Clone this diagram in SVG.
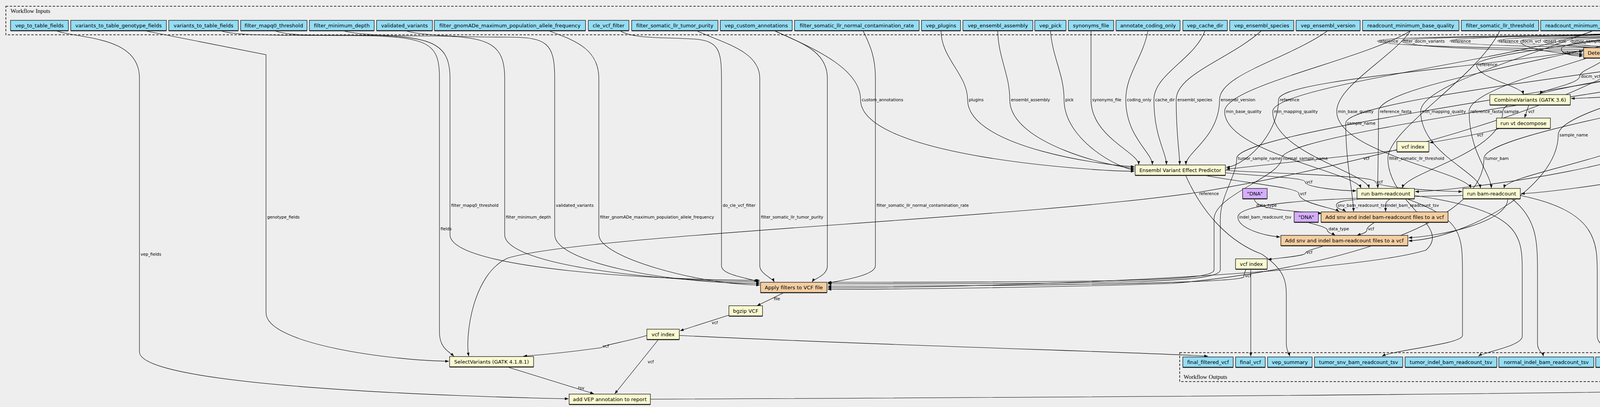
<svg xmlns="http://www.w3.org/2000/svg" width="7037" height="1041" viewBox="0 0 7037 1041">
<style>
rect.b{stroke:#000;stroke-width:1.2}
.in rect.b,.out rect.b{fill:#94ddf4}
.wf rect.b{fill:#f3cea1}
.tl rect.b{fill:#fafad2}
.cs rect.b{fill:#d5aefc}
rect.s{fill:#3a3a3a}
text.n{font-family:"DejaVu Sans",sans-serif;font-size:13px;text-anchor:middle;fill:#000}
text.l{font-family:"DejaVu Sans",sans-serif;font-size:10.5px;fill:#000}
#edges path{fill:none;stroke:#000;stroke-width:1.1;marker-end:url(#a)}
.cl{fill:none;stroke:#000;stroke-width:1.5;stroke-dasharray:6 4}
.ct{font-family:"Liberation Serif",serif;font-size:15px;fill:#000}
</style>
<defs>
<marker id="a" markerWidth="9" markerHeight="7" refX="9" refY="3.5" orient="auto" markerUnits="userSpaceOnUse"><path d="M0,0 L9,3.5 L0,7 z" fill="#000"/></marker>
</defs>
<rect x="0" y="0" width="7037" height="1041" fill="#eeeeee"/>
<g id="cluster_inputs"><rect class="cl" x="15" y="16" width="6989" height="73"/><text class="ct" x="27" y="33">Workflow Inputs</text></g>
<g id="cluster_outputs"><rect class="cl" x="3020" y="902" width="2828" height="74"/><text class="ct" x="3030" y="969">Workflow Outputs</text></g>

<g id="edges">
<path d="M4265,78 C4265,92 3526,90 3526,105 C3526,125 4440,131 4498,131"/>
<path d="M4390,78 C4390,92 3589,90 3589,105 C3589,125 4000,131 4052,131"/>
<path d="M4265,78 C4265,92 3712,90 3712,105 C3712,125 4870,131 4931,131"/>
<path d="M4265,78 C4265,92 3834,90 3834,105 C3834,125 5300,131 5361,131"/>
<path d="M4515,78 C4515,92 3892,90 3892,105 C3892,125 4000,139 4052,139"/>
<path d="M4632,78 C4632,92 3951,90 3951,105 C3951,125 4440,135 4498,135"/>
<path d="M4788,78 C4788,92 4020,90 4020,105 C4020,125 4440,139 4498,139"/>
<path d="M4265,78 C4265,92 4142,90 4142,105 C4142,125 6060,128 6118,128"/>
<path d="M5094,78 C5094,92 4226,90 4226,105 C4226,112 4174,105 4174,121"/>
<path d="M4265,78 C4265,92 4320,90 4320,105 C4320,122 4270,131 4219,131"/>
<path d="M4957,78 C4957,92 4381,90 4381,105 C4381,125 4870,139 4931,139"/>
<path d="M5200,78 C5200,92 4522,90 4522,105 C4522,125 4270,139 4219,139"/>
<path d="M5094,78 C5094,92 4600,90 4600,105 C4600,112 4590,105 4590,121"/>
<path d="M4788,78 C4788,92 4665,90 4665,105 C4665,122 4730,131 4680,131"/>
<path d="M4788,78 C4788,92 4787,90 4787,105 C4787,125 4880,135 4931,135"/>
<path d="M4788,78 C4788,92 4929,90 4929,105 C4929,125 5300,135 5361,135"/>
<path d="M5094,78 C5094,92 5056,90 5056,105 C5056,112 5040,105 5040,121"/>
<path d="M5200,78 C5200,92 5128,90 5128,105 C5128,122 5170,131 5119,131"/>
<path d="M5475,78 C5475,92 5218,90 5218,105 C5218,122 5170,139 5119,139"/>
<path d="M4957,78 C4957,92 5293,90 5293,105 C5293,122 5320,139 5361,139"/>
<path d="M5094,78 C5094,92 5421,90 5421,105 C5421,112 5425,105 5425,121"/>
<path d="M5200,78 C5200,92 5492,90 5492,105 C5492,122 5545,131 5494,131"/>
<path d="M5475,78 C5475,92 5566,90 5566,105 C5566,122 5545,139 5494,139"/>
<path d="M5200,78 C5200,92 5646,90 5646,105 C5646,125 4740,139 4680,139"/>
<path d="M4957,78 C4957,92 5732,90 5732,105 C5732,125 6060,131 6118,131"/>
<path d="M5094,78 C5094,92 5866,90 5866,105 C5866,125 6060,135 6118,135"/>
<path d="M5475,78 C5475,92 5931,90 5931,105 C5931,125 6060,139 6118,139"/>
<path d="M5754,78 C5754,92 5997,90 5997,105 C5997,125 5180,135 5119,135"/>
<path d="M5754,78 C5754,92 6094,90 6094,105 C6094,125 4740,135 4680,135"/>
<path d="M5200,78 C5200,92 6178,90 6178,105 C6178,112 6185,105 6185,121"/>
<path d="M5475,78 C5475,92 6260,90 6260,105 C6260,125 4280,143 4219,143"/>
<path d="M5896,78 C5896,92 6325,90 6325,105 C6325,125 5560,135 5494,135"/>
<path d="M5475,78 C5475,92 6403,90 6403,105 C6403,125 4740,143 4680,143"/>
<path d="M6063,78 C6063,92 6493,90 6493,105 C6493,125 5560,143 5494,143"/>
<path d="M5754,78 C5754,92 6579,90 6579,105 C6579,125 6320,128 6259,128"/>
<path d="M6230,78 C6230,92 6667,90 6667,105 C6667,125 6320,131 6259,131"/>
<path d="M6399,78 C6399,92 6745,90 6745,105 C6745,125 6320,134 6259,134"/>
<path d="M6570,78 C6570,92 6814,90 6814,105 C6814,125 6320,137 6259,137"/>
<path d="M6758,78 C6758,92 6883,90 6883,105 C6883,125 6320,140 6259,140"/>
<path d="M6928,78 C6928,92 6974,90 6974,105 C6974,125 6320,143 6259,143"/>
<path d="M4265,78 C4265,95 3997,100 3997,125 C3997,140 4030,143 4052,143"/>

<path d="M2409,78 C2409,150 2477,190 2477,255 C2477,380 2850,426 2904,426"/>
<path d="M2554,78 C2556,150 2585,190 2585,255 C2585,370 2860,430 2904,430"/>
<path d="M2689,78 C2695,150 2724,190 2724,255 C2724,360 2870,434 2904,434"/>
<path d="M2793,78 C2793,150 2793,190 2793,255 C2793,350 2915,390 2915,421"/>
<path d="M2939,78 C2925,150 2882,190 2882,255 C2882,350 2950,390 2950,421"/>
<path d="M3085,78 C3060,150 2954,190 2954,255 C2954,350 2986,390 2986,421"/>
<path d="M3230,78 C3150,150 3011,190 3011,255 C3011,350 3020,390 3020,421"/>
<path d="M3400,78 C3300,150 3122,190 3122,255 C3122,350 3036,390 3036,421"/>
<path d="M4265,78 C4100,160 3273,190 3273,255 C3273,350 3180,426 3139,428"/>
<path d="M1981,78 C2100,130 2203,180 2203,255 C2203,400 2800,438 2904,438"/>

<path d="M3612,78 C3500,150 3135,220 3135,285 C3135,390 3470,440 3484,481"/>
<path d="M4080,78 C3900,150 3258,220 3258,285 C3258,390 3495,440 3505,481"/>
<path d="M3612,78 C3560,150 3422,220 3422,285 C3422,390 3755,440 3765,481"/>
<path d="M4265,78 C4000,150 3529,220 3529,285 C3529,390 3527,440 3527,481"/>
<path d="M4080,78 C3900,150 3637,220 3637,285 C3637,390 3785,440 3790,481"/>
<path d="M4265,78 C4100,150 3761,220 3761,285 C3761,390 3815,440 3818,481"/>
<path d="M4788,78 C4500,160 3847,220 3847,285 C3847,390 3600,440 3590,481"/>
<path d="M4957,78 C4700,160 4279,220 4279,285 C4279,390 3860,440 3850,481"/>
<path d="M5094,78 C4800,160 4352,220 4352,285 C4352,420 3700,490 3623,490"/>
<path d="M5200,78 C4900,160 4624,220 4624,285 C4624,420 3950,495 3894,495"/>

<path d="M3137,442 C3250,452 3341,455 3341,465 C3341,480 3440,488 3472,488"/>
<path d="M3137,436 C3300,445 3521,450 3521,465 C3521,480 3700,490 3743,490"/>
<path d="M3080,448 C3200,470 3325,480 3325,495 C3325,520 3415,532 3428,541"/>
<path d="M3211,508 C3211,538 3320,540 3384,546"/>
<path d="M3500,508 C3440,512 3421,516 3421,525 C3421,535 3440,537 3445,541"/>
<path d="M3560,508 C3550,515 3547,518 3547,525 L3547,541"/>
<path d="M4788,78 C4300,170 3445,250 3445,315 C3445,420 3465,500 3465,541"/>
<path d="M3520,568 C3505,578 3499,582 3499,589 C3499,596 3480,600 3474,602"/>
<path d="M3344,568 C3380,578 3398,582 3398,589 C3398,596 3415,600 3418,602"/>
<path d="M3745,500 C3500,505 3169,510 3169,555 C3169,585 3240,604 3277,606"/>
<path d="M3860,508 C3860,570 3680,605 3606,608"/>
<path d="M4957,78 C4500,170 3989,270 3989,345 C3989,480 3750,610 3606,616"/>
<path d="M3392,628 C3360,638 3341,642 3341,649 C3330,656 3270,660 3246,664"/>
<path d="M3190,688 C3186,698 3184,702 3184,709 C3150,728 2400,732 2119,732"/>
<path d="M3202,688 L3202,911"/>
<path d="M3035,448 C3080,550 3150,620 3230,650 C3290,690 3293,720 3293,760 L3293,880 C3293,895 3300,905 3302,911"/>
<path d="M4265,78 C4150,250 3500,420 3067,492 C2600,560 1500,600 1300,660 C1210,700 1190,860 1200,911"/>
<path d="M4788,78 C4300,200 3166,330 3166,405 C3166,450 3124,500 3124,560 L3124,690 C3124,722 2900,726 2119,726"/>
<path d="M4957,78 C4500,200 3281,330 3281,405 C3281,450 3108,500 3108,560 L3108,690 C3108,718 2900,722 2119,722"/>
<path d="M3840,78 C3780,200 3553,330 3553,405 C3553,520 3720,580 3650,640 C3450,700 2600,736 2119,736"/>
<path d="M5094,78 C4600,220 3799,330 3799,405 C3799,600 3300,700 3000,725 C2700,735 2300,740 2119,740"/>

<path d="M701,78 C740,92 800,90 900,90 C1100,90 1152,105 1152,200 L1152,600 C1152,690 1700,717 1945,717"/>
<path d="M875,78 C920,90 1000,92 1100,92 C1250,92 1292,110 1292,200 L1292,600 C1292,680 1700,721 1945,721"/>
<path d="M1036,78 C1080,92 1200,95 1300,95 C1400,95 1420,110 1420,200 L1420,600 C1420,670 1700,725 1945,725"/>
<path d="M1403,78 C1460,100 1533,120 1533,200 L1533,600 C1533,660 1800,729 1945,729"/>
<path d="M1586,78 C1620,100 1700,95 1780,100 C1840,105 1847,130 1847,200 L1847,680 C1847,705 1925,712 1940,721"/>
<path d="M1782,78 C1850,110 1945,130 1945,200 L1945,680 C1945,700 1978,712 1982,721"/>
<path d="M2209,78 C2230,120 2241,150 2241,200 L2241,680 C2241,705 2150,718 2120,724"/>
<path d="M1981,78 C2050,110 2118,130 2118,200 L2118,680 C2118,705 2085,712 2079,721"/>

<path d="M367,78 L681,140 L681,800 C681,880 1000,922 1149,924"/>
<path d="M563,78 C600,92 700,90 900,91 C1100,92 1125,110 1125,200 L1125,850 C1125,890 1150,900 1162,911"/>
<path d="M141,78 C200,100 357,90 357,200 L357,900 C357,990 1200,1015 1455,1020"/>
<path d="M1656,858 C1600,875 1545,882 1540,889 C1450,902 1380,908 1340,911"/>
<path d="M1686,868 L1574,1007"/>
<path d="M1300,939 L1520,1007"/>
<path d="M1866,806 L1741,846"/>
<path d="M2006,749 L1938,782"/>
<path d="M1739,858 C2300,885 2900,900 3092,911"/>
<path d="M1665,1021 C3000,1015 4800,1005 5100,975 C5125,965 5132,955 5133,941"/>

<path d="M4200,148 C4300,200 4390,240 4390,320 L4390,911"/>
<path d="M4574,148 C4560,200 4549,240 4549,300 L4549,880 C4549,900 4545,905 4545,911"/>
<path d="M4620,148 C4650,190 4657,230 4657,300 L4657,880 C4657,900 4680,905 4684,911"/>
<path d="M5000,148 C4975,180 4966,230 4966,300 L4966,860 C4966,890 4925,905 4915,911"/>
<path d="M5025,148 L5025,911"/>
<path d="M5385,148 C5350,190 5341,230 5341,300 L5341,860 C5341,890 5305,905 5300,911"/>
<path d="M5428,148 L5428,911"/>
<path d="M6150,148 C5800,250 5774,350 5774,450 L5774,858 C5774,885 5660,900 5640,911"/>
<path d="M6200,148 C6000,250 5973,350 5973,450 L5973,858 C5973,885 5880,905 5840,913"/>
<path d="M3600,508 C3744,560 3744,600 3744,700 L3744,858 C3744,880 3570,895 3538,911"/>
<path d="M3621,500 C3897,540 3897,600 3897,700 L3897,860 C3897,885 3800,900 3785,911"/>
<path d="M3870,508 C3936,560 3936,620 3936,700 L3936,880 C3936,895 3950,905 3951,911"/>
<path d="M3892,500 C4089,540 4089,620 4089,700 L4089,860 C4089,885 4130,900 4140,911"/>

<path d="M4265,78 C4150,100 3780,140 3780,165 C3780,200 3895,220 3900,241"/>
<path d="M4110,148 C4090,170 4044,180 4044,195 C4044,215 3950,228 3942,241"/>
<path d="M4668,205 C4560,215 4430,220 4417,225 C4300,240 4080,250 4022,252"/>
<path d="M4625,148 C4660,160 4690,165 4693,168 C4710,175 4725,178 4733,181"/>
<path d="M4933,142 C4820,148 4774,155 4774,168 C4772,175 4770,178 4770,181"/>
<path d="M5363,145 C5250,155 5140,160 5120,167 C5000,180 4920,186 4877,188"/>
<path d="M6120,145 C5600,160 5000,195 4877,200"/>
<path d="M4265,78 C4280,140 4260,170 4300,175 C4450,185 4600,193 4666,194"/>
<path d="M3914,268 L3903,301"/>
<path d="M3842,328 C3800,340 3720,355 3660,365"/>
<path d="M3576,384 C3450,400 3250,420 3139,433"/>

<g id="edge-labels">
<text class="l" x="3529" y="109">reference</text>
<text class="l" x="3592" y="109">filter_docm_variants</text>
<text class="l" x="3715" y="109">reference</text>
<text class="l" x="3837" y="109">reference</text>
<text class="l" x="3895" y="109">docm_vcf</text>
<text class="l" x="3954" y="109">insert_size</text>
<text class="l" x="4023" y="109">tumor_sample_name</text>
<text class="l" x="4145" y="109">reference</text>
<text class="l" x="4229" y="109">tumor_bam</text>
<text class="l" x="4323" y="109">reference</text>
<text class="l" x="4384" y="109">normal_sample_name</text>
<text class="l" x="4525" y="109">normal_bam</text>
<text class="l" x="4603" y="109">tumor_bam</text>
<text class="l" x="4668" y="109">tumor_sample_name</text>
<text class="l" x="4790" y="109">tumor_sample_name</text>
<text class="l" x="4932" y="109">tumor_sample_name</text>
<text class="l" x="5059" y="109">tumor_bam</text>
<text class="l" x="5131" y="109">normal_bam</text>
<text class="l" x="5221" y="109">interval_list</text>
<text class="l" x="5296" y="109">normal_sample_name</text>
<text class="l" x="5424" y="109">tumor_bam</text>
<text class="l" x="5495" y="109">normal_bam</text>
<text class="l" x="5569" y="109">interval_list</text>
<text class="l" x="5649" y="109">normal_bam</text>
<text class="l" x="5735" y="109">normal_sample_name</text>
<text class="l" x="5869" y="109">tumor_bam</text>
<text class="l" x="5934" y="109">interval_list</text>
<text class="l" x="6000" y="109">scatter_count</text>
<text class="l" x="6097" y="109">scatter_count</text>
<text class="l" x="6181" y="109">normal_bam</text>
<text class="l" x="6263" y="109">interval_list</text>
<text class="l" x="6328" y="109">exome_mode</text>
<text class="l" x="6406" y="109">interval_list</text>
<text class="l" x="6496" y="109">cpu_reserved</text>
<text class="l" x="6582" y="109">scatter_count</text>
<text class="l" x="6670" y="109">min_coverage</text>
<text class="l" x="6748" y="109">strand_filter</text>
<text class="l" x="6817" y="109">min_var_freq</text>
<text class="l" x="6886" y="109">max_normal_freq</text>
<text class="l" x="6977" y="109">p_value</text>
<text class="l" x="4000" y="139">reference</text>
<text class="l" x="3783" y="169">reference</text>
<text class="l" x="4047" y="199">docm_vcf</text>
<text class="l" x="4420" y="229">callers_vcf</text>
<text class="l" x="4696" y="169">pindel_vcf</text>
<text class="l" x="4777" y="169">mutect_vcf</text>
<text class="l" x="5123" y="169">strelka_vcf</text>
<text class="l" x="3912" y="289">vcf</text>
<text class="l" x="3781" y="349">vcf</text>
<text class="l" x="3490" y="409">vcf</text>
<text class="l" x="2480" y="259">plugins</text>
<text class="l" x="2588" y="259">ensembl_assembly</text>
<text class="l" x="2727" y="259">pick</text>
<text class="l" x="2796" y="259">synonyms_file</text>
<text class="l" x="2885" y="259">coding_only</text>
<text class="l" x="2957" y="259">cache_dir</text>
<text class="l" x="3014" y="259">ensembl_species</text>
<text class="l" x="3125" y="259">ensembl_version</text>
<text class="l" x="3276" y="259">reference</text>
<text class="l" x="2206" y="259">custom_annotations</text>
<text class="l" x="3138" y="289">min_base_quality</text>
<text class="l" x="3261" y="289">min_mapping_quality</text>
<text class="l" x="3425" y="289">min_base_quality</text>
<text class="l" x="3532" y="289">reference_fasta</text>
<text class="l" x="3640" y="289">min_mapping_quality</text>
<text class="l" x="3764" y="289">reference_fasta</text>
<text class="l" x="3850" y="289">sample</text>
<text class="l" x="4282" y="289">sample</text>
<text class="l" x="4355" y="289">bam</text>
<text class="l" x="4627" y="289">bam</text>
<text class="l" x="3448" y="319">sample_name</text>
<text class="l" x="3992" y="349">sample_name</text>
<text class="l" x="3169" y="409">tumor_sample_name</text>
<text class="l" x="3284" y="409">normal_sample_name</text>
<text class="l" x="3556" y="409">filter_somatic_llr_threshold</text>
<text class="l" x="3802" y="409">tumor_bam</text>
<text class="l" x="3344" y="469">vcf</text>
<text class="l" x="3524" y="469">vcf</text>
<text class="l" x="3070" y="499">reference</text>
<text class="l" x="3328" y="499">vcf</text>
<text class="l" x="3216" y="529">data_type</text>
<text class="l" x="3424" y="529">snv_bam_readcount_tsv</text>
<text class="l" x="3550" y="529">indel_bam_readcount_tsv</text>
<text class="l" x="3172" y="559">indel_bam_readcount_tsv</text>
<text class="l" x="3401" y="589">data_type</text>
<text class="l" x="3502" y="589">vcf</text>
<text class="l" x="3344" y="649">vcf</text>
<text class="l" x="3187" y="709">vcf</text>
<text class="l" x="1155" y="529">filter_mapq0_threshold</text>
<text class="l" x="1295" y="559">filter_minimum_depth</text>
<text class="l" x="1423" y="529">validated_variants</text>
<text class="l" x="1536" y="559">filter_gnomADe_maximum_population_allele_frequency</text>
<text class="l" x="1850" y="529">do_cle_vcf_filter</text>
<text class="l" x="1948" y="559">filter_somatic_llr_tumor_purity</text>
<text class="l" x="2244" y="529">filter_somatic_llr_normal_contamination_rate</text>
<text class="l" x="684" y="559">genotype_fields</text>
<text class="l" x="1128" y="589">fields</text>
<text class="l" x="360" y="654">vep_fields</text>
<text class="l" x="1981" y="768">file</text>
<text class="l" x="1822" y="829">vcf</text>
<text class="l" x="1543" y="889">vcf</text>
<text class="l" x="1658" y="929">vcf</text>
<text class="l" x="1480" y="996">tsv</text>
</g>
</g>

<g id="nodes">
<g id="in_vep_to_table_fields" class="in"><rect class="s" x="27" y="54" width="148" height="26"/><rect class="b" x="27" y="52" width="148" height="26"/><text class="n" x="101" y="69.5">vep_to_table_fields</text></g>
<g id="in_variants_to_table_genotype_fields" class="in"><rect class="s" x="181" y="54" width="245" height="26"/><rect class="b" x="181" y="52" width="245" height="26"/><text class="n" x="303.5" y="69.5">variants_to_table_genotype_fields</text></g>
<g id="in_variants_to_table_fields" class="in"><rect class="s" x="432" y="54" width="178" height="26"/><rect class="b" x="432" y="52" width="178" height="26"/><text class="n" x="521" y="69.5">variants_to_table_fields</text></g>
<g id="in_filter_mapq0_threshold" class="in"><rect class="s" x="616" y="54" width="170" height="26"/><rect class="b" x="616" y="52" width="170" height="26"/><text class="n" x="701" y="69.5">filter_mapq0_threshold</text></g>
<g id="in_filter_minimum_depth" class="in"><rect class="s" x="792" y="54" width="166" height="26"/><rect class="b" x="792" y="52" width="166" height="26"/><text class="n" x="875" y="69.5">filter_minimum_depth</text></g>
<g id="in_validated_variants" class="in"><rect class="s" x="964" y="54" width="143" height="26"/><rect class="b" x="964" y="52" width="143" height="26"/><text class="n" x="1035.5" y="69.5">validated_variants</text></g>
<g id="in_filter_gnomADe_maximum_population_allele_frequency" class="in"><rect class="s" x="1112" y="54" width="387" height="26"/><rect class="b" x="1112" y="52" width="387" height="26"/><text class="n" x="1305.5" y="69.5">filter_gnomADe_maximum_population_allele_frequency</text></g>
<g id="in_cle_vcf_filter" class="in"><rect class="s" x="1506" y="54" width="104" height="26"/><rect class="b" x="1506" y="52" width="104" height="26"/><text class="n" x="1558" y="69.5">cle_vcf_filter</text></g>
<g id="in_filter_somatic_llr_tumor_purity" class="in"><rect class="s" x="1617" y="54" width="221" height="26"/><rect class="b" x="1617" y="52" width="221" height="26"/><text class="n" x="1727.5" y="69.5">filter_somatic_llr_tumor_purity</text></g>
<g id="in_vep_custom_annotations" class="in"><rect class="s" x="1844" y="54" width="184" height="26"/><rect class="b" x="1844" y="52" width="184" height="26"/><text class="n" x="1936" y="69.5">vep_custom_annotations</text></g>
<g id="in_filter_somatic_llr_normal_contamination_rate" class="in"><rect class="s" x="2034" y="54" width="319" height="26"/><rect class="b" x="2034" y="52" width="319" height="26"/><text class="n" x="2193.5" y="69.5">filter_somatic_llr_normal_contamination_rate</text></g>
<g id="in_vep_plugins" class="in"><rect class="s" x="2359" y="54" width="100" height="26"/><rect class="b" x="2359" y="52" width="100" height="26"/><text class="n" x="2409" y="69.5">vep_plugins</text></g>
<g id="in_vep_ensembl_assembly" class="in"><rect class="s" x="2465" y="54" width="179" height="26"/><rect class="b" x="2465" y="52" width="179" height="26"/><text class="n" x="2554.5" y="69.5">vep_ensembl_assembly</text></g>
<g id="in_vep_pick" class="in"><rect class="s" x="2649" y="54" width="80" height="26"/><rect class="b" x="2649" y="52" width="80" height="26"/><text class="n" x="2689" y="69.5">vep_pick</text></g>
<g id="in_synonyms_file" class="in"><rect class="s" x="2735" y="54" width="116" height="26"/><rect class="b" x="2735" y="52" width="116" height="26"/><text class="n" x="2793" y="69.5">synonyms_file</text></g>
<g id="in_annotate_coding_only" class="in"><rect class="s" x="2857" y="54" width="164" height="26"/><rect class="b" x="2857" y="52" width="164" height="26"/><text class="n" x="2939" y="69.5">annotate_coding_only</text></g>
<g id="in_vep_cache_dir" class="in"><rect class="s" x="3028" y="54" width="114" height="26"/><rect class="b" x="3028" y="52" width="114" height="26"/><text class="n" x="3085" y="69.5">vep_cache_dir</text></g>
<g id="in_vep_ensembl_species" class="in"><rect class="s" x="3148" y="54" width="164" height="26"/><rect class="b" x="3148" y="52" width="164" height="26"/><text class="n" x="3230" y="69.5">vep_ensembl_species</text></g>
<g id="in_vep_ensembl_version" class="in"><rect class="s" x="3318" y="54" width="164" height="26"/><rect class="b" x="3318" y="52" width="164" height="26"/><text class="n" x="3400" y="69.5">vep_ensembl_version</text></g>
<g id="in_readcount_minimum_base_quality" class="in"><rect class="s" x="3488" y="54" width="247" height="26"/><rect class="b" x="3488" y="52" width="247" height="26"/><text class="n" x="3611.5" y="69.5">readcount_minimum_base_quality</text></g>
<g id="in_filter_somatic_llr_threshold" class="in"><rect class="s" x="3741" y="54" width="198" height="26"/><rect class="b" x="3741" y="52" width="198" height="26"/><text class="n" x="3840" y="69.5">filter_somatic_llr_threshold</text></g>
<g id="in_readcount_minimum_mapping_quality" class="in"><rect class="s" x="3944" y="54" width="273" height="26"/><rect class="b" x="3944" y="52" width="273" height="26"/><text class="n" x="4080.5" y="69.5">readcount_minimum_mapping_quality</text></g>
<g id="in_reference" class="in"><rect class="s" x="4223" y="54" width="83" height="26"/><rect class="b" x="4223" y="52" width="83" height="26"/><text class="n" x="4264.5" y="69.5">reference</text></g>
<g id="in_filter_docm_variants" class="in"><rect class="s" x="4312" y="54" width="155" height="26"/><rect class="b" x="4312" y="52" width="155" height="26"/><text class="n" x="4389.5" y="69.5">filter_docm_variants</text></g>
<g id="in_docm_vcf" class="in"><rect class="s" x="4473" y="54" width="83" height="26"/><rect class="b" x="4473" y="52" width="83" height="26"/><text class="n" x="4514.5" y="69.5">docm_vcf</text></g>
<g id="in_pindel_insert_size" class="in"><rect class="s" x="4562" y="54" width="140" height="26"/><rect class="b" x="4562" y="52" width="140" height="26"/><text class="n" x="4632" y="69.5">pindel_insert_size</text></g>
<g id="in_tumor_sample_name" class="in"><rect class="s" x="4708" y="54" width="159" height="26"/><rect class="b" x="4708" y="52" width="159" height="26"/><text class="n" x="4787.5" y="69.5">tumor_sample_name</text></g>
<g id="in_normal_sample_name" class="in"><rect class="s" x="4873" y="54" width="167" height="26"/><rect class="b" x="4873" y="52" width="167" height="26"/><text class="n" x="4956.5" y="69.5">normal_sample_name</text></g>
<g id="in_tumor_bam" class="in"><rect class="s" x="5046" y="54" width="96" height="26"/><rect class="b" x="5046" y="52" width="96" height="26"/><text class="n" x="5094" y="69.5">tumor_bam</text></g>
<g id="in_normal_bam" class="in"><rect class="s" x="5149" y="54" width="103" height="26"/><rect class="b" x="5149" y="52" width="103" height="26"/><text class="n" x="5200.5" y="69.5">normal_bam</text></g>
<g id="in_roi_intervals" class="in"><rect class="s" x="5258" y="54" width="434" height="26"/><rect class="b" x="5258" y="52" width="434" height="26"/><text class="n" x="5475" y="69.5">roi_intervals: regions of interest in which variants will be called</text></g>
<g id="in_scatter_count" class="in"><rect class="s" x="5698" y="54" width="111" height="26"/><rect class="b" x="5698" y="52" width="111" height="26"/><text class="n" x="5753.5" y="69.5">scatter_count</text></g>
<g id="in_strelka_exome_mode" class="in"><rect class="s" x="5815" y="54" width="161" height="26"/><rect class="b" x="5815" y="52" width="161" height="26"/><text class="n" x="5895.5" y="69.5">strelka_exome_mode</text></g>
<g id="in_strelka_cpu_reserved" class="in"><rect class="s" x="5982" y="54" width="161" height="26"/><rect class="b" x="5982" y="52" width="161" height="26"/><text class="n" x="6062.5" y="69.5">strelka_cpu_reserved</text></g>
<g id="in_varscan_min_coverage" class="in"><rect class="s" x="6149" y="54" width="161" height="26"/><rect class="b" x="6149" y="52" width="161" height="26"/><text class="n" x="6229.5" y="69.5">varscan_min_coverage</text></g>
<g id="in_varscan_strand_filter" class="in"><rect class="s" x="6317" y="54" width="156" height="26"/><rect class="b" x="6317" y="52" width="156" height="26"/><text class="n" x="6395" y="69.5">varscan_strand_filter</text></g>
<g id="in_varscan_min_var_freq" class="in"><rect class="s" x="6479" y="54" width="177" height="26"/><rect class="b" x="6479" y="52" width="177" height="26"/><text class="n" x="6567.5" y="69.5">varscan_min_var_freq</text></g>
<g id="in_varscan_max_normal_freq" class="in"><rect class="s" x="6663" y="54" width="191" height="26"/><rect class="b" x="6663" y="52" width="191" height="26"/><text class="n" x="6758.5" y="69.5">varscan_max_normal_freq</text></g>
<g id="in_varscan_p_value" class="in"><rect class="s" x="6862" y="54" width="132" height="26"/><rect class="b" x="6862" y="52" width="132" height="26"/><text class="n" x="6928" y="69.5">varscan_p_value</text></g>

<g id="docm" class="wf"><rect class="s" x="4054" y="124" width="163" height="26"/><rect class="b" x="4054" y="122" width="163" height="26"/><text class="n" x="4135.5" y="139.5">Detect Docm variants</text></g>
<g id="pindel" class="wf"><rect class="s" x="4500" y="124" width="178" height="26"/><rect class="b" x="4500" y="122" width="178" height="26"/><text class="n" x="4589" y="139.5">pindel parallel workflow</text></g>
<g id="mutect" class="wf"><rect class="s" x="4933" y="124" width="184" height="26"/><rect class="b" x="4933" y="122" width="184" height="26"/><text class="n" x="5025" y="139.5">mutect parallel workflow</text></g>
<g id="strelka" class="wf"><rect class="s" x="5363" y="124" width="129" height="26"/><rect class="b" x="5363" y="122" width="129" height="26"/><text class="n" x="5427.5" y="139.5">strelka workflow</text></g>
<g id="varscan" class="wf"><rect class="s" x="6120" y="124" width="137" height="26"/><rect class="b" x="6120" y="122" width="137" height="26"/><text class="n" x="6188.5" y="139.5">Varscan Workflow</text></g>
<g id="combine" class="tl"><rect class="s" x="4668" y="184" width="206" height="26"/><rect class="b" x="4668" y="182" width="206" height="26"/><text class="n" x="4771" y="199.5">CombineVariants (GATK 3.6)</text></g>
<g id="add_docm" class="tl"><rect class="s" x="3814" y="244" width="206" height="26"/><rect class="b" x="3814" y="242" width="206" height="26"/><text class="n" x="3917" y="259.5">CombineVariants (GATK 3.6)</text></g>
<g id="decompose" class="tl"><rect class="s" x="3831" y="304" width="138" height="26"/><rect class="b" x="3831" y="302" width="138" height="26"/><text class="n" x="3900" y="319.5">run vt decompose</text></g>
<g id="decompose_index" class="tl"><rect class="s" x="3576" y="364" width="82" height="26"/><rect class="b" x="3576" y="362" width="82" height="26"/><text class="n" x="3617" y="379.5">vcf index</text></g>
<g id="annotate_variants" class="tl"><rect class="s" x="2906" y="424" width="231" height="26"/><rect class="b" x="2906" y="422" width="231" height="26"/><text class="n" x="3021.5" y="439.5">Ensembl Variant Effect Predictor</text></g>
<g id="dna_tumor" class="cs"><rect class="s" x="3181" y="484" width="63" height="26"/><rect class="b" x="3181" y="482" width="63" height="26"/><text class="n" x="3212.5" y="499.5">"DNA"</text></g>
<g id="tumor_bam_readcount" class="tl"><rect class="s" x="3474" y="484" width="147" height="26"/><rect class="b" x="3474" y="482" width="147" height="26"/><text class="n" x="3547.5" y="499.5">run bam-readcount</text></g>
<g id="normal_bam_readcount" class="tl"><rect class="s" x="3745" y="484" width="147" height="26"/><rect class="b" x="3745" y="482" width="147" height="26"/><text class="n" x="3818.5" y="499.5">run bam-readcount</text></g>
<g id="dna_normal" class="cs"><rect class="s" x="3313" y="544" width="62" height="26"/><rect class="b" x="3313" y="542" width="62" height="26"/><text class="n" x="3344" y="559.5">"DNA"</text></g>
<g id="add_tumor_bam_readcount_to_vcf" class="wf"><rect class="s" x="3382" y="544" width="325" height="26"/><rect class="b" x="3382" y="542" width="325" height="26"/><text class="n" x="3544.5" y="559.5">Add snv and indel bam-readcount files to a vcf</text></g>
<g id="add_normal_bam_readcount_to_vcf" class="wf"><rect class="s" x="3279" y="604" width="325" height="26"/><rect class="b" x="3279" y="602" width="325" height="26"/><text class="n" x="3441.5" y="619.5">Add snv and indel bam-readcount files to a vcf</text></g>
<g id="index" class="tl"><rect class="s" x="3163" y="664" width="81" height="26"/><rect class="b" x="3163" y="662" width="81" height="26"/><text class="n" x="3203.5" y="679.5">vcf index</text></g>
<g id="filter_vcf" class="wf"><rect class="s" x="1947" y="724" width="170" height="26"/><rect class="b" x="1947" y="722" width="170" height="26"/><text class="n" x="2032" y="739.5">Apply filters to VCF file</text></g>
<g id="annotated_filter_bgzip" class="tl"><rect class="s" x="1866" y="784" width="86" height="26"/><rect class="b" x="1866" y="782" width="86" height="26"/><text class="n" x="1909" y="799.5">bgzip VCF</text></g>
<g id="annotated_filter_index" class="tl"><rect class="s" x="1656" y="844" width="83" height="26"/><rect class="b" x="1656" y="842" width="83" height="26"/><text class="n" x="1697.5" y="859.5">vcf index</text></g>
<g id="annotated_variants_tsv" class="tl"><rect class="s" x="1151" y="914" width="215" height="26"/><rect class="b" x="1151" y="912" width="215" height="26"/><text class="n" x="1258.5" y="929.5">SelectVariants (GATK 4.1.8.1)</text></g>
<g id="add_vep_fields_to_table" class="tl"><rect class="s" x="1457" y="1010" width="208" height="26"/><rect class="b" x="1457" y="1008" width="208" height="26"/><text class="n" x="1561" y="1025.5">add VEP annotation to report</text></g>

<g id="out_final_filtered_vcf" class="out"><rect class="s" x="3028" y="915" width="129" height="26"/><rect class="b" x="3028" y="913" width="129" height="26"/><text class="n" x="3092.5" y="930.5">final_filtered_vcf</text></g>
<g id="out_final_vcf" class="out"><rect class="s" x="3163" y="915" width="76" height="26"/><rect class="b" x="3163" y="913" width="76" height="26"/><text class="n" x="3201" y="930.5">final_vcf</text></g>
<g id="out_vep_summary" class="out"><rect class="s" x="3245" y="915" width="114" height="26"/><rect class="b" x="3245" y="913" width="114" height="26"/><text class="n" x="3302" y="930.5">vep_summary</text></g>
<g id="out_tumor_snv_bam_readcount_tsv" class="out"><rect class="s" x="3365" y="915" width="226" height="26"/><rect class="b" x="3365" y="913" width="226" height="26"/><text class="n" x="3478" y="930.5">tumor_snv_bam_readcount_tsv</text></g>
<g id="out_tumor_indel_bam_readcount_tsv" class="out"><rect class="s" x="3597" y="915" width="235" height="26"/><rect class="b" x="3597" y="913" width="235" height="26"/><text class="n" x="3714.5" y="930.5">tumor_indel_bam_readcount_tsv</text></g>
<g id="out_normal_indel_bam_readcount_tsv" class="out"><rect class="s" x="3837" y="915" width="243" height="26"/><rect class="b" x="3837" y="913" width="243" height="26"/><text class="n" x="3958.5" y="930.5">normal_indel_bam_readcount_tsv</text></g>
<g id="out_normal_snv_bam_readcount_tsv" class="out"><rect class="s" x="4085" y="915" width="235" height="26"/><rect class="b" x="4085" y="913" width="235" height="26"/><text class="n" x="4202.5" y="930.5">normal_snv_bam_readcount_tsv</text></g>
<g id="out_docm_filtered_vcf" class="out"><rect class="s" x="4325" y="915" width="139" height="26"/><rect class="b" x="4325" y="913" width="139" height="26"/><text class="n" x="4394.5" y="930.5">docm_filtered_vcf</text></g>
<g id="out_pindel_filtered_vcf" class="out"><rect class="s" x="4470" y="915" width="142" height="26"/><rect class="b" x="4470" y="913" width="142" height="26"/><text class="n" x="4541" y="930.5">pindel_filtered_vcf</text></g>
<g id="out_pindel_unfiltered_vcf" class="out"><rect class="s" x="4618" y="915" width="158" height="26"/><rect class="b" x="4618" y="913" width="158" height="26"/><text class="n" x="4697" y="930.5">pindel_unfiltered_vcf</text></g>
<g id="out_mutect_unfiltered_vcf" class="out"><rect class="s" x="4782" y="915" width="164" height="26"/><rect class="b" x="4782" y="913" width="164" height="26"/><text class="n" x="4864" y="930.5">mutect_unfiltered_vcf</text></g>
<g id="out_mutect_filtered_vcf" class="out"><rect class="s" x="4951" y="915" width="148" height="26"/><rect class="b" x="4951" y="913" width="148" height="26"/><text class="n" x="5025" y="930.5">mutect_filtered_vcf</text></g>
<g id="out_final_tsv" class="out"><rect class="s" x="5106" y="915" width="76" height="26"/><rect class="b" x="5106" y="913" width="76" height="26"/><text class="n" x="5144" y="930.5">final_tsv</text></g>
<g id="out_strelka_unfiltered_vcf" class="out"><rect class="s" x="5188" y="915" width="162" height="26"/><rect class="b" x="5188" y="913" width="162" height="26"/><text class="n" x="5269" y="930.5">strelka_unfiltered_vcf</text></g>
<g id="out_strelka_filtered_vcf" class="out"><rect class="s" x="5356" y="915" width="146" height="26"/><rect class="b" x="5356" y="913" width="146" height="26"/><text class="n" x="5429" y="930.5">strelka_filtered_vcf</text></g>
<g id="out_varscan_unfiltered_vcf" class="out"><rect class="s" x="5508" y="915" width="170" height="26"/><rect class="b" x="5508" y="913" width="170" height="26"/><text class="n" x="5593" y="930.5">varscan_unfiltered_vcf</text></g>
<g id="out_varscan_filtered_vcf" class="out"><rect class="s" x="5683" y="915" width="154" height="26"/><rect class="b" x="5683" y="913" width="154" height="26"/><text class="n" x="5760" y="930.5">varscan_filtered_vcf</text></g>
</g>
</svg>
